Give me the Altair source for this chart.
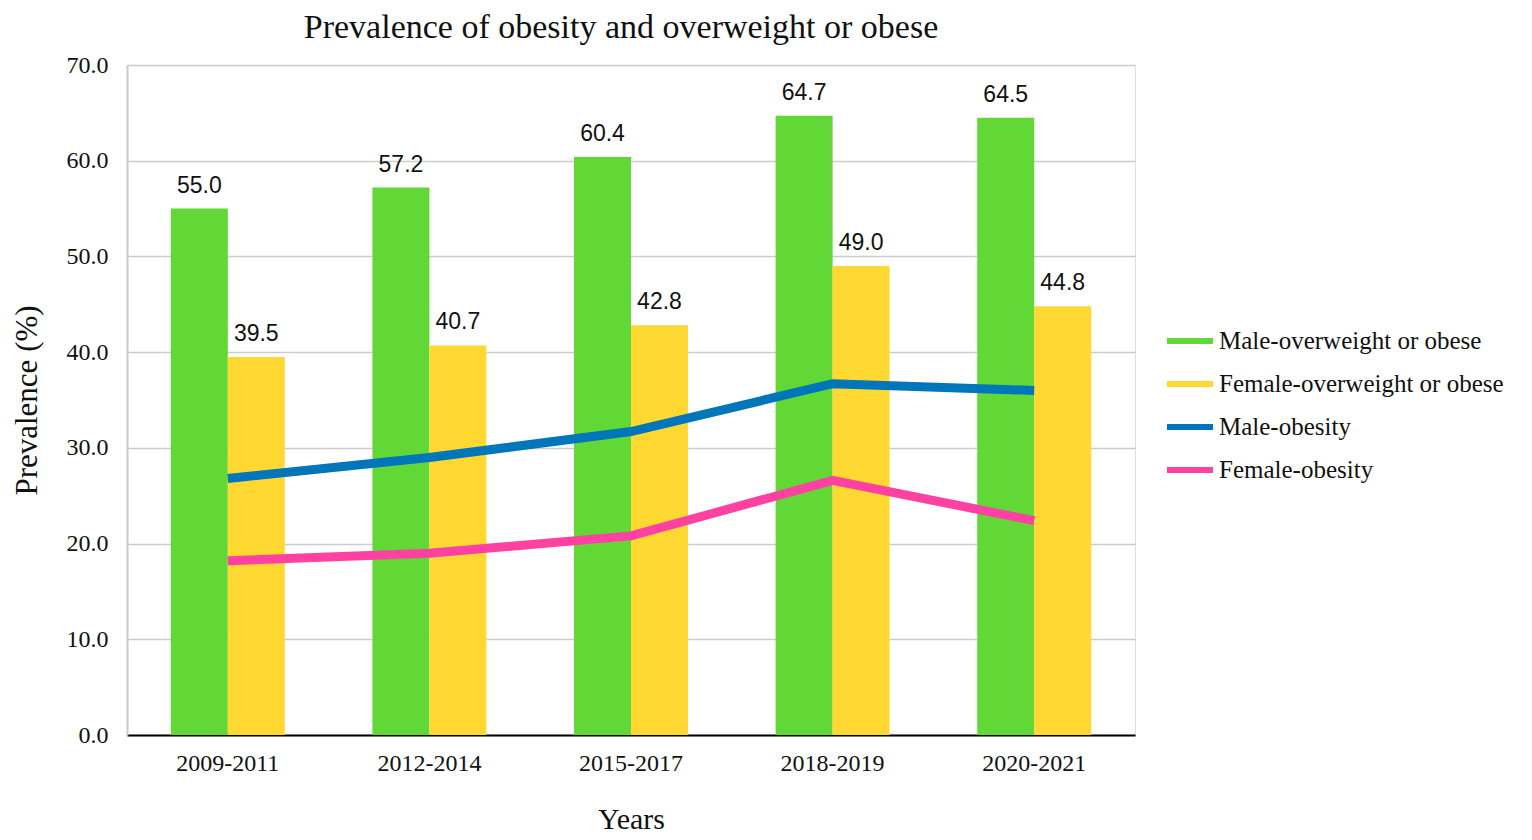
import altair as alt
import pandas as pd

years = ["2009-2011", "2012-2014", "2015-2017", "2018-2019", "2020-2021"]
male_ow = [55.0, 57.2, 60.4, 64.7, 64.5]
female_ow = [39.5, 40.7, 42.8, 49.0, 44.8]
male_ob = [26.8, 29.0, 31.7, 36.7, 36.0]
female_ob = [18.2, 19.0, 20.8, 26.6, 22.4]

series = ["Male-overweight or obese", "Female-overweight or obese", "Male-obesity", "Female-obesity"]
colors = ["#61D836", "#FFD932", "#0076BA", "#FF42A1"]

bars_df = pd.DataFrame(
    [{"year": y, "series": series[0], "value": v} for y, v in zip(years, male_ow)]
    + [{"year": y, "series": series[1], "value": v} for y, v in zip(years, female_ow)]
)
lines_df = pd.DataFrame(
    [{"year": y, "series": series[2], "value": v} for y, v in zip(years, male_ob)]
    + [{"year": y, "series": series[3], "value": v} for y, v in zip(years, female_ob)]
)

serif = "Liberation Serif"
sans = "Liberation Sans"

x_enc = alt.X(
    "year:N",
    sort=years,
    title="Years",
    scale=alt.Scale(paddingInner=0.435, paddingOuter=0.2175),
    axis=alt.Axis(
        labelAngle=0, labelFont=serif, labelFontSize=24, labelColor="#111",
        labelPadding=16, ticks=False, domainColor="#000", domainWidth=2,
        titleFont=serif, titleFontSize=30, titleFontWeight="normal", titleColor="#111",
        titlePadding=29, grid=False,
    ),
)
y_enc = alt.Y(
    "value:Q",
    title="Prevalence (%)",
    scale=alt.Scale(domain=[0, 70]),
    axis=alt.Axis(
        values=[0, 10, 20, 30, 40, 50, 60, 70], format=".1f",
        labelFont=serif, labelFontSize=24, labelColor="#111", labelPadding=19,
        ticks=False, domainColor="#C8C8C8", domainWidth=2,
        gridColor="#CCCCCC", gridWidth=1.5,
        titleFont=serif, titleFontSize=31, titleFontWeight="normal", titleColor="#111",
        titlePadding=23,
    ),
)
xoff = alt.XOffset("series:N", sort=series[:2], scale=alt.Scale(domain=series[:2], paddingInner=0, paddingOuter=0))

legend = alt.Legend(
    title=None, orient="none", legendX=1040, legendY=253,
    labelFont=serif, labelFontSize=25, labelColor="#111", labelLimit=400,
    symbolType="M-1,-0.13H1V0.13H-1Z", symbolSize=2116, symbolStrokeWidth=0,
    labelOffset=6, rowPadding=7, padding=0,
)

bars = alt.Chart(bars_df).mark_bar(size=57).encode(
    x=x_enc, y=y_enc, xOffset=xoff,
    fill=alt.Fill("series:N", scale=alt.Scale(domain=series, range=colors), legend=legend),
)

labels = alt.Chart(bars_df).mark_text(
    font=sans, fontSize=23, baseline="bottom", dy=-11, color="#111"
).encode(
    x=x_enc, y=y_enc, xOffset=xoff,
    text=alt.Text("value:Q", format=".1f"),
)

lines = alt.Chart(lines_df).mark_line(strokeWidth=9).encode(
    x=alt.X("year:N", sort=years, bandPosition=0.5),
    y="value:Q",
    stroke=alt.Stroke("series:N", scale=alt.Scale(domain=series, range=colors), legend=None),
)

chart = alt.layer(bars, labels, lines).properties(
    width=1008, height=670,
    padding={"left": 3, "top": 3, "right": 5, "bottom": 0},
    title=alt.TitleParams(
        "Prevalence of obesity and overweight or obese",
        font=serif, fontSize=34, fontWeight="normal", color="#111", offset=8, dx=-10,
    ),
).configure_view(stroke="#C8C8C8", strokeWidth=2).configure(background="white")

chart.save("out.html", embed_options={"renderer": "svg", "actions": False})
